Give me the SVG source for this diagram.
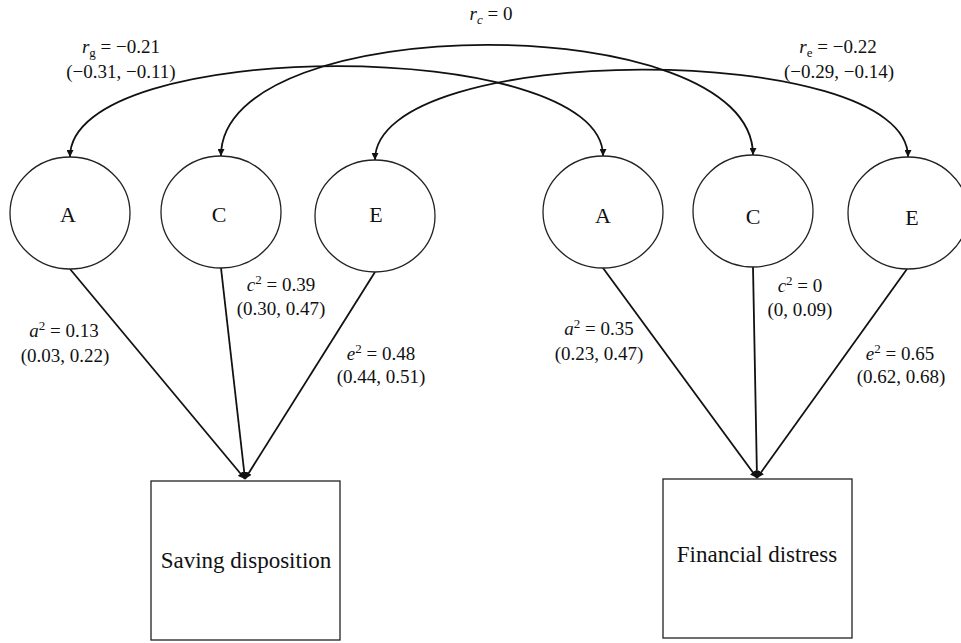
<svg xmlns="http://www.w3.org/2000/svg" width="961" height="643" viewBox="0 0 961 643">
<defs>
<marker id="arr" viewBox="0 0 10 10" refX="10" refY="5" markerWidth="7" markerHeight="7" markerUnits="userSpaceOnUse" orient="auto-start-reverse">
<path d="M0,0 L10,5 L0,10 z" fill="#111"/>
</marker>
<style>
text{font-family:"Liberation Serif","Times New Roman",serif;fill:#111;}
.lbl{font-size:19px;text-anchor:middle;}
.lat{font-size:22px;text-anchor:middle;}
.box{font-size:23px;text-anchor:middle;}
.sub{font-size:13px;}
.it{font-style:italic;}
.node{fill:#fff;stroke:#222;stroke-width:1.3;}
.edge{fill:none;stroke:#111;stroke-width:1.8;marker-end:url(#arr);}
.dbl{marker-start:url(#arr);}
</style>
</defs>
<rect width="961" height="643" fill="#fff"/>
<g id="connectors">
<path class="edge dbl" d="M70,157 C70,36 603,36 603,156"/>
<path class="edge dbl" d="M221,156 C221,8 753,8 753,155"/>
<path class="edge dbl" d="M375,160 C375,40 908,40 908,157"/>
<line class="edge" x1="70" y1="269" x2="245" y2="479"/>
<line class="edge" x1="221" y1="268" x2="245" y2="479"/>
<line class="edge" x1="375" y1="272" x2="245" y2="479"/>
<line class="edge" x1="603" y1="268" x2="757" y2="478"/>
<line class="edge" x1="753" y1="267" x2="757" y2="478"/>
<line class="edge" x1="907" y1="269" x2="757" y2="478"/>
</g>
<g id="labels">
<text class="lbl" x="491" y="20"><tspan class="it">r</tspan><tspan class="sub it" dy="4">c</tspan><tspan dy="-4"> = 0</tspan></text>
<text class="lbl" x="121" y="53"><tspan class="it">r</tspan><tspan class="sub" dy="4">g</tspan><tspan dy="-4"> = −0.21</tspan></text>
<text class="lbl" x="121" y="78">(−0.31, −0.11)</text>
<text class="lbl" x="838" y="53"><tspan class="it">r</tspan><tspan class="sub" dy="4">e</tspan><tspan dy="-4"> = −0.22</tspan></text>
<text class="lbl" x="839" y="78">(−0.29, −0.14)</text>
<text class="lbl" x="64" y="337"><tspan class="it">a</tspan><tspan class="sub" dy="-7">2</tspan><tspan dy="7"> = 0.13</tspan></text>
<text class="lbl" x="65" y="362">(0.03, 0.22)</text>
<text class="lbl" x="281" y="291"><tspan class="it">c</tspan><tspan class="sub" dy="-7">2</tspan><tspan dy="7"> = 0.39</tspan></text>
<text class="lbl" x="281" y="315">(0.30, 0.47)</text>
<text class="lbl" x="381" y="360"><tspan class="it">e</tspan><tspan class="sub" dy="-7">2</tspan><tspan dy="7"> = 0.48</tspan></text>
<text class="lbl" x="381" y="383">(0.44, 0.51)</text>
<text class="lbl" x="599" y="335"><tspan class="it">a</tspan><tspan class="sub" dy="-7">2</tspan><tspan dy="7"> = 0.35</tspan></text>
<text class="lbl" x="599" y="360">(0.23, 0.47)</text>
<text class="lbl" x="800" y="292"><tspan class="it">c</tspan><tspan class="sub" dy="-7">2</tspan><tspan dy="7"> = 0</tspan></text>
<text class="lbl" x="800" y="316">(0, 0.09)</text>
<text class="lbl" x="900" y="360"><tspan class="it">e</tspan><tspan class="sub" dy="-7">2</tspan><tspan dy="7"> = 0.65</tspan></text>
<text class="lbl" x="901" y="383">(0.62, 0.68)</text>
</g>
<g id="A1"><ellipse class="node" cx="70" cy="213" rx="60" ry="56"/><text class="lat" x="68" y="222">A</text></g>
<g id="C1"><ellipse class="node" cx="221" cy="212" rx="60" ry="56"/><text class="lat" x="219" y="222">C</text></g>
<g id="E1"><ellipse class="node" cx="375" cy="216" rx="60" ry="56"/><text class="lat" x="376" y="222">E</text></g>
<g id="A2"><ellipse class="node" cx="603" cy="212" rx="60" ry="56"/><text class="lat" x="603" y="223">A</text></g>
<g id="C2"><ellipse class="node" cx="753" cy="211" rx="60" ry="56"/><text class="lat" x="753" y="224">C</text></g>
<g id="E2"><ellipse class="node" cx="908" cy="213" rx="60" ry="56"/><text class="lat" x="912" y="225">E</text></g>
<g id="saving"><rect class="node" x="151" y="481" width="189" height="159" stroke-width="1.6"/><text class="box" x="246" y="568">Saving disposition</text></g>
<g id="distress"><rect class="node" x="663" y="479" width="189" height="159" stroke-width="1.6"/><text class="box" x="757" y="562">Financial distress</text></g>
</svg>
